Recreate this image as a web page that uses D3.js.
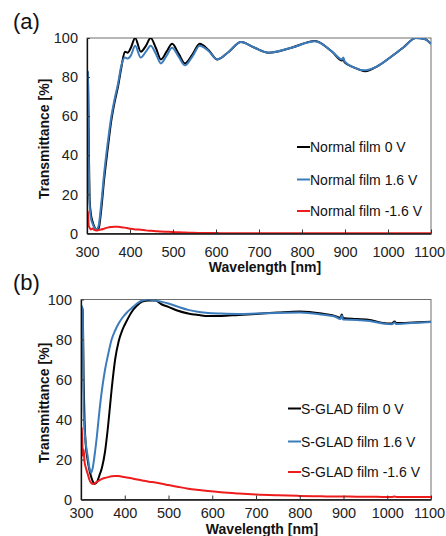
<!DOCTYPE html>
<html>
<head>
<meta charset="utf-8">
<script src="https://cdn.jsdelivr.net/npm/d3@7"></script>
<style>
body { margin:0; background:#fff; }
text { font-family: "Liberation Sans", Arial, sans-serif; }
.tick text { fill:#222; }
.title { font-weight:bold; fill:#111; }
</style>
</head>
<body>
<svg id="myGraph" width="446" height="536"></svg>
<script>
// (a) Normal film
var waveA = [300, 302, 304, 306, 309, 313, 317, 322, 327, 333, 340, 348, 356, 364, 372, 380, 388, 395, 402, 412,
	425, 437, 448, 460, 472, 485, 498, 513, 528, 545, 562, 582, 603, 630, 658, 690, 722, 775, 830, 870,
	893, 896, 899, 920, 947, 975, 1005, 1035, 1065, 1085, 1100];
var normal0 = [83, 82, 50, 18, 10, 6, 3.5, 2, 2.5, 12, 28, 43, 57, 67, 75, 85, 93, 92.5, 95, 100,
	93, 96, 100, 95, 89, 93, 97, 92, 87, 91.5, 97, 94, 89, 93, 98, 95, 92.5, 95, 98.5, 93,
	88.5, 89.5, 87.5, 85, 83, 85.5, 90, 95, 100, 99.5, 97];
var normal16 = [83.5, 82, 40, 15, 8, 5, 3, 2.2, 4, 15, 31, 46, 59, 68.5, 76.5, 86, 90, 89.5, 91, 96,
	90, 93, 96, 92, 87, 91, 95, 90.5, 86, 90.5, 96, 93.5, 89, 93, 98, 95, 92.5, 95, 98.3, 93,
	89, 90, 88, 85, 83.5, 85.5, 90, 95, 100, 99.5, 97];
var normalNeg = [4, 11.5, 4, 3, 2, 2.5, 1.8, 1.5, 1.8, 2, 2.5, 3, 3.3, 3.5, 3.5, 3.2, 3, 2.7, 2.4, 2.1,
	1.9, 1.6, 1.4, 1.2, 1, 0.9, 0.8, 0.6, 0.5, 0.4, 0.3, 0.25, 0.2, 0.15, 0.15, 0.15, 0.15, 0.15, 0.15, 0.15,
	0.15, 0.15, 0.15, 0.15, 0.15, 0.15, 0.15, 0.15, 0.15, 0.15, 0.15];

// (b) S-GLAD film
var waveB = [300, 302, 304, 306, 308, 311, 315, 319, 323, 327, 331, 336, 342, 348, 355, 362, 370, 378, 386, 395,
	405, 415, 428, 440, 455, 470, 485, 500, 520, 545, 570, 590, 620, 660, 700, 750, 800, 850, 880, 893,
	896, 899, 930, 960, 990, 1010, 1017, 1020, 1040, 1070, 1100];
var glad0 = [96, 96, 94, 60, 40, 27, 20, 15, 11.5, 9, 7.8, 8.5, 12, 16, 24, 37, 55, 70, 79, 85,
	89.5, 93.5, 97, 99, 99.5, 99.5, 97.5, 96.3, 94.5, 93, 92.2, 91.7, 91.8, 92.3, 92.8, 93.5, 94, 93, 91.8, 91,
	92.5, 90.8, 90.3, 89.8, 88.3, 88, 89, 88.3, 88.3, 88.6, 88.9];
var glad16 = [97, 96.5, 95, 45, 35, 28, 22, 16, 13.4, 16, 22, 31, 44, 55, 65, 72.5, 80, 84.5, 88, 91,
	93.5, 95.5, 98, 99.5, 100, 99.5, 98.8, 98, 96.5, 94.8, 93.8, 93.3, 93, 92.8, 93, 93.3, 93.5, 92.5, 91.5, 90.2,
	92, 90, 89.8, 89.2, 88, 87.6, 88.5, 87.8, 88, 88.4, 88.7];
var gladNeg = [13, 36, 22, 25, 19, 16, 13, 10, 8.3, 7.8, 8, 8.8, 9.6, 10.3, 10.8, 11.2, 11.6, 11.7, 11.7, 11.4,
	11, 10.6, 10, 9.5, 8.9, 8.5, 7.9, 7.2, 6.4, 5.4, 4.7, 4.2, 3.6, 3, 2.5, 2.1, 1.8, 1.6, 1.5, 1.5,
	1.5, 1.5, 1.4, 1.4, 1.3, 1.3, 1.5, 1.3, 1.3, 1.2, 1.2];

var xTicks = [300, 400, 500, 600, 700, 800, 900, 1000, 1100];
var yTicks = [0, 20, 40, 60, 80, 100];
var legendA = ["Normal film 0 V", "Normal film 1.6 V", "Normal film -1.6 V"];
var legendB = ["S-GLAD film 0 V", "S-GLAD film 1.6 V", "S-GLAD film -1.6 V"];
var colors = ["#000000", "#3c7cbc", "#ee1c1c"];

window.addEventListener("load", function(){
	var svg = d3.select("#myGraph");

	drawPanel({ id:"a", label:"(a)", left:87, right:431, top:38, bottom:233.5,
		labelY:29, xPad:13, xTitleY:272, yTitleX:49, yTitleY:139,
		legX:297, legY:[147, 179.5, 211], wave:waveA, series:[normal0, normal16, normalNeg], names:legendA });
	drawPanel({ id:"b", label:"(b)", left:81, right:431, top:299.5, bottom:499.5,
		labelY:290, xPad:8, xTitleY:533.5, yTitleX:49, yTitleY:403,
		legX:288, legY:[408.5, 441.5, 472], wave:waveB, series:[glad0, glad16, gladNeg], names:legendB });

	function drawPanel(p){
		var xScale = d3.scaleLinear().domain([300, 1100]).range([p.left, p.right]);
		var yScale = d3.scaleLinear().domain([0, 100]).range([p.bottom, p.top]);

		// clip for lines
		svg.append("clipPath").attr("id", "clip" + p.id)
			.append("rect")
			.attr("x", p.left).attr("y", p.top)
			.attr("width", p.right - p.left).attr("height", p.bottom - p.top);

		// frame
		svg.append("rect")
			.attr("x", p.left).attr("y", p.top)
			.attr("width", p.right - p.left).attr("height", p.bottom - p.top)
			.attr("fill", "none").attr("stroke", "#6e6e6e").attr("stroke-width", 1);

		// lines
		var line = d3.line()
			.x(function(d){ return xScale(d[0]); })
			.y(function(d){ return yScale(d[1]); })
			.curve(d3.curveMonotoneX);
		p.series.forEach(function(vals, k){
			var pts = p.wave.map(function(w, i){ return [w, vals[i]]; });
			svg.append("path")
				.attr("d", line(pts))
				.attr("fill", "none")
				.attr("stroke", colors[k])
				.attr("stroke-width", 2)
				.attr("clip-path", "url(#clip" + p.id + ")");
		});

		// axes
		var xAxis = d3.axisBottom(xScale).tickValues(xTicks).tickFormat(d3.format("d"))
			.tickSizeInner(-4).tickSizeOuter(0).tickPadding(p.xPad);
		var gx = svg.append("g").attr("transform", "translate(0," + p.bottom + ")").call(xAxis);
		var yAxis = d3.axisLeft(yScale).tickValues(yTicks).tickSizeInner(-3).tickSizeOuter(0).tickPadding(9);
		var gy = svg.append("g").attr("transform", "translate(" + p.left + ",0)").call(yAxis);
		[gx, gy].forEach(function(g){
			g.selectAll(".domain").attr("stroke", "#111").attr("stroke-width", 1.3);
			g.selectAll(".tick line").attr("stroke", "#333");
			g.selectAll(".tick text").attr("font-size", 14.5).attr("font-family", "Liberation Sans, Arial, sans-serif");
		});
		// last label sits at the window edge
		gx.selectAll(".tick text").filter(function(d){ return d == 1100; }).attr("dx", -2);

		// titles
		svg.append("text").attr("class", "title")
			.attr("x", (p.left + p.right) / 2 + 6).attr("y", p.xTitleY)
			.attr("text-anchor", "middle").attr("font-size", 14)
			.text("Wavelength [nm]");
		svg.append("text").attr("class", "title")
			.attr("transform", "translate(" + p.yTitleX + "," + p.yTitleY + ") rotate(-90)")
			.attr("text-anchor", "middle").attr("font-size", 14)
			.text("Transmittance  [%]");
		svg.append("text")
			.attr("x", 13).attr("y", p.labelY)
			.attr("font-size", 22).attr("fill", "#111")
			.text(p.label);

		// legend
		p.names.forEach(function(name, k){
			svg.append("line")
				.attr("x1", p.legX).attr("x2", p.legX + 13)
				.attr("y1", p.legY[k]).attr("y2", p.legY[k])
				.attr("stroke", colors[k]).attr("stroke-width", 2);
			svg.append("text")
				.attr("x", p.legX + 13).attr("y", p.legY[k]).attr("dy", "0.36em")
				.attr("font-size", 14).attr("fill", "#111")
				.text(name);
		});
	}
});
</script>
</body>
</html>
